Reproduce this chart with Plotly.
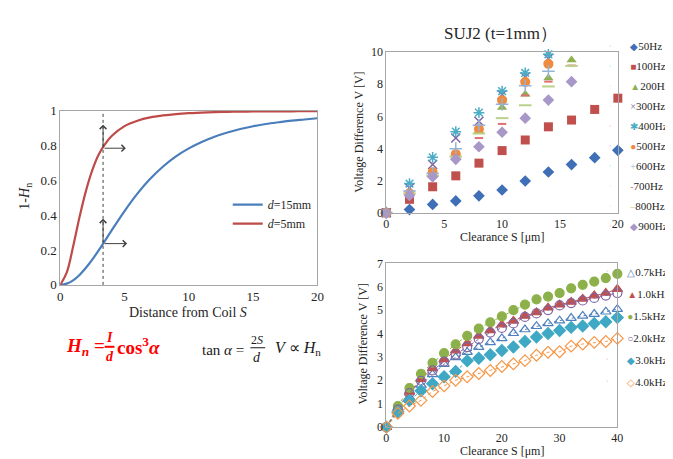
import plotly.graph_objects as go

# ---------------- data ----------------
# Left chart: 1-Hn versus distance from coil S
S_left = [0, 0.5, 1, 1.5, 2, 2.5, 3, 3.5, 4, 5, 6, 7, 8, 9, 10, 11, 12, 13, 14, 15, 16, 17, 18, 19, 20]
d15mm = [0, 0.007, 0.026, 0.057, 0.098, 0.146, 0.200, 0.256, 0.313, 0.424, 0.524, 0.609, 0.680, 0.738,
         0.784, 0.821, 0.851, 0.875, 0.895, 0.911, 0.924, 0.934, 0.943, 0.950, 0.957]
d5mm = [0, 0.07, 0.22, 0.39, 0.54, 0.66, 0.75, 0.81, 0.855, 0.912, 0.943, 0.962, 0.973, 0.981,
        0.986, 0.989, 0.992, 0.994, 0.995, 0.996, 0.996, 0.997, 0.997, 0.998, 0.998]
S_mark = 3.33
mark_d5 = 0.785
mark_d15 = 0.237

# Top right chart: SUJ2 (t=1mm)
clear_top = [0, 2, 4, 6, 8, 10, 12, 14, 16, 18, 20]
hz_names = ["50Hz", "100Hz", "200Hz", "300Hz", "400Hz", "500Hz", "600Hz", "700Hz", "800Hz", "900Hz"]
v50 = [0, 0.20, 0.52, 0.74, 1.06, 1.42, 1.98, 2.54, 3.00, 3.43, 3.89]
v100 = [0, 0.84, 1.62, 2.30, 3.09, 3.87, 4.53, 5.35, 5.77, 6.43, 7.13]
v200 = [0, 1.30, 2.35, 3.60, 5.10, 6.55, 7.38, 8.38, 9.50]
v300 = [0, 1.55, 3.00, 4.65, 5.70, 7.35, 8.45, 9.60]
v400 = [0, 1.82, 3.45, 5.05, 6.23, 7.57, 8.70, 9.86]
v500 = [0, 1.20, 2.52, 3.65, 5.21, 7.00, 8.14, 9.26]
v600 = [0, 1.35, 2.45, 3.99, 5.45, 6.75, 7.90, 8.80]
v700 = [0, 1.00, 2.35, 3.55, 4.65, 5.53, 7.30, 8.16, 9.16]
v800 = [0, 1.20, 2.30, 3.50, 4.93, 5.89, 6.69, 7.86, 9.14]
v900 = [0, 1.08, 2.24, 3.33, 4.11, 5.01, 5.89, 7.01, 8.16]

# Bottom right chart
clear_bot = [0, 2, 4, 6, 8, 10, 12, 14, 16, 18, 20, 22, 24, 26, 28, 30, 32, 34, 36, 38, 40]
khz_names = ["0.7kHz", "1.0kHz", "1.5kHz", "2.0kHz", "3.0kHz", "4.0kHz"]
k07 = [0, 0.73, 1.28, 1.80, 2.25, 2.69, 2.98, 3.20, 3.42, 3.62, 3.79, 4.01, 4.17, 4.31, 4.43, 4.55, 4.66, 4.75, 4.83, 4.93, 5.04]
k10 = [0, 0.82, 1.50, 2.05, 2.51, 2.89, 3.27, 3.58, 3.90, 4.13, 4.38, 4.54, 4.75, 4.90, 5.10, 5.23, 5.35, 5.48, 5.62, 5.73, 5.90]
k15 = [0, 0.90, 1.67, 2.28, 2.75, 3.16, 3.54, 3.90, 4.21, 4.48, 4.73, 5.00, 5.23, 5.46, 5.58, 5.73, 5.93, 6.08, 6.22, 6.37, 6.55]
k20 = [0, 0.75, 1.45, 1.98, 2.42, 2.80, 3.10, 3.42, 3.76, 4.04, 4.24, 4.43, 4.71, 4.86, 5.00, 5.20, 5.30, 5.41, 5.52, 5.62, 5.73]
k30 = [0, 0.65, 1.13, 1.55, 1.85, 2.15, 2.38, 2.83, 2.94, 3.09, 3.27, 3.42, 3.66, 3.85, 4.00, 4.13, 4.26, 4.32, 4.43, 4.50, 4.68]
k40 = [0, 0.59, 0.90, 1.14, 1.52, 1.76, 2.00, 2.15, 2.29, 2.42, 2.59, 2.70, 2.84, 3.07, 3.20, 3.22, 3.46, 3.55, 3.62, 3.66, 3.79]

# ---------------- styling ----------------
FONT = "Liberation Serif"
TXT = "#262626"
FRAME = "#A6A6A6"
W, H = 673, 459

def px(x):
    return x / W

def py(y):
    return 1 - y / H

fig = go.Figure()

# left chart curves
fig.add_trace(go.Scatter(x=S_left, y=d15mm, mode="lines", line=dict(color="#4A7EBB", width=2.2, shape="spline"),
                         name="<i>d</i>=15mm", xaxis="x", yaxis="y", legend="legend"))
fig.add_trace(go.Scatter(x=S_left, y=d5mm, mode="lines", line=dict(color="#BE4B48", width=2.2, shape="spline"),
                         name="<i>d</i>=5mm", xaxis="x", yaxis="y", legend="legend"))

def legend_label(glyph, color, name, gsize=10):
    return f'<span style="color:{color};font-size:{gsize}px">{glyph}</span>{name}'

# top right scatter
top_series = [v50, v100, v200, v300, v400, v500, v600, v700, v800, v900]
top_styles = [
    dict(symbol="diamond", color="#3F6FB6", size=9),
    dict(symbol="square", color="#C0504D", size=9),
    dict(symbol="triangle-up", color="#8FB050", size=9),
    dict(symbol="x-thin-open", color="#8064A2", size=9, line=dict(color="#8064A2", width=1.5)),
    dict(symbol="asterisk-open", color="#4BACC6", size=9, line=dict(color="#4BACC6", width=1.5)),
    dict(symbol="circle", color="#F08A3C", size=10),
    dict(symbol="cross-thin-open", color="#95B3D7", size=9, line=dict(color="#95B3D7", width=1.5)),
    dict(symbol="line-ew-open", color="#E07070", size=6, line=dict(color="#E07070", width=2)),
    dict(symbol="line-ew-open", color="#B9D18A", size=9, line=dict(color="#B9D18A", width=2)),
    dict(symbol="diamond", color="#A898C8", size=9),
]
top_glyphs = ["◆", "■", "▲", "×", "✱", "●", "+", "-", "–", "◆"]
for name, vals, st, gl in zip(hz_names, top_series, top_styles, top_glyphs):
    fig.add_trace(go.Scatter(x=clear_top[:len(vals)], y=vals, mode="markers", marker=st, name=name,
                             xaxis="x2", yaxis="y2", showlegend=False, cliponaxis=False))
    # legend entry (no data)
    fig.add_trace(go.Scatter(x=[None], y=[None], mode="markers", marker=dict(opacity=0, size=1),
                             name=legend_label(gl, st["color"], name), xaxis="x2", yaxis="y2",
                             legend="legend2", legendgroup=name, hoverinfo="skip"))

# bottom right scatter with dotted lines
bot_series = [k07, k10, k15, k20, k30, k40]
bot_colors = ["#4F81BD", "#C0504D", "#8DB14A", "#8064A2", "#3FA8C4", "#F79646"]
bot_symbols = ["triangle-up-open", "triangle-up", "circle", "circle-open", "diamond", "diamond-open"]
bot_glyphs = ["△", "▲", "●", "○", "◆", "◇"]
for name, vals, col, sym, gl in zip(khz_names, bot_series, bot_colors, bot_symbols, bot_glyphs):
    fig.add_trace(go.Scatter(x=clear_bot, y=vals, mode="lines+markers",
                             line=dict(color=col, width=1, dash="dot"),
                             marker=dict(symbol=sym, color=col, size=9, line=dict(color=col, width=1.2)),
                             name=name, xaxis="x3", yaxis="y3", showlegend=False, cliponaxis=False))
    fig.add_trace(go.Scatter(x=[None], y=[None], mode="markers", marker=dict(opacity=0, size=1),
                             name=legend_label(gl, col, name), xaxis="x3", yaxis="y3",
                             legend="legend3", legendgroup=name, hoverinfo="skip"))

axis_common = dict(showline=True, mirror=True, linecolor=FRAME, linewidth=1, showgrid=False, zeroline=False,
                   ticks="", ticklen=0, tickfont=dict(family=FONT, size=13, color=TXT))
small_ticks = {**axis_common, "tickfont": dict(family=FONT, size=12, color=TXT)}

fig.update_layout(
    width=W, height=H, autosize=False,
    margin=dict(l=0, r=0, t=0, b=0),
    paper_bgcolor="white", plot_bgcolor="white",
    font=dict(family=FONT, color=TXT),
    xaxis=dict(domain=[px(50), px(311)], range=[0, 20], dtick=5, anchor="y", **axis_common),
    yaxis=dict(domain=[py(279), py(99)], range=[0, 1], dtick=0.2, anchor="x", **axis_common),
    xaxis2=dict(domain=[px(381), px(616)], range=[0, 20], dtick=5, anchor="y2", **small_ticks),
    yaxis2=dict(domain=[py(204.5), py(38.3)], range=[0, 10], dtick=2, anchor="x2", **small_ticks),
    xaxis3=dict(domain=[px(381), px(615.5)], range=[0, 40], dtick=10, anchor="y3", **small_ticks),
    yaxis3=dict(domain=[py(426), py(256.7)], range=[0, 7], dtick=1, anchor="x3", **small_ticks),
    legend=dict(x=px(220), y=py(181), xanchor="left", yanchor="top", bgcolor="rgba(0,0,0,0)",
                font=dict(family=FONT, size=12, color=TXT), tracegroupgap=0),
    legend2=dict(x=px(588), y=py(17), xanchor="left", yanchor="top", bgcolor="rgba(0,0,0,0)",
                 font=dict(family=FONT, size=11, color=TXT), tracegroupgap=1),
    legend3=dict(x=px(585), y=py(250), xanchor="left", yanchor="top", bgcolor="rgba(0,0,0,0)",
                 font=dict(family=FONT, size=11, color=TXT), tracegroupgap=3),
)

ann = []
def text(x, y, t, size=13, color=TXT, xanchor="center", angle=0):
    ann.append(dict(x=px(x), y=py(y), xref="paper", yref="paper", text=t, showarrow=False,
                    font=dict(family=FONT, size=size, color=color), xanchor=xanchor, yanchor="middle",
                    textangle=angle))

# left chart titles
text(180, 308, "Distance from Coil <i>S</i>", size=14)
text(15, 187, "1-<i>H</i><sub>n</sub>", size=14, angle=-90)
# right chart titles
text(497, 19, "SUJ2 (t=1mm）", size=17)
text(498, 230, "Clearance S [μm]", size=12)
text(353, 121, "Voltage Difference V [V]", size=12, angle=-90)
text(498, 451, "Clearance S [μm]", size=12)
text(357, 340, "Voltage Difference V [V]", size=12, angle=-90)

# formula
RED = "#FF0000"
text(97, 343, "<b><i>H</i><sub><i>n</i></sub> =</b>", size=19, color=RED, xanchor="right")
text(100, 333, "<b><i>I</i></b>", size=14, color=RED)
text(100, 353, "<b><i>d</i></b>", size=14, color=RED)
text(106, 342, "<b>cos<sup>3</sup><i>α</i></b>", size=19, color=RED, xanchor="left")
text(192, 346, "tan <i>α</i> =", size=15, color="#1a1a1a", xanchor="left")
text(250, 336, "2<i>S</i>", size=12, color="#1a1a1a")
text(250, 354, "<i>d</i>", size=14, color="#1a1a1a")
text(266, 345, "<i>V</i> ∝ <i>H</i><sub>n</sub>", size=16, color="#1a1a1a", xanchor="left")

# arrows on left chart
for (xa, ya, xh, yh) in [(S_mark, mark_d5, S_mark, 0.92), (S_mark, mark_d5, 5.1, mark_d5),
                         (S_mark, mark_d15, S_mark, 0.38), (S_mark, mark_d15, 5.2, mark_d15)]:
    ann.append(dict(x=xh, y=yh, ax=xa, ay=ya, xref="x", yref="y", axref="x", ayref="y", text="",
                    showarrow=True, arrowhead=4, arrowsize=1.3, arrowwidth=1, arrowcolor="#404040",
                    standoff=0, startstandoff=0))

fig.update_layout(annotations=ann)

shapes = [
    dict(type="line", xref="x", yref="y", x0=S_mark, x1=S_mark, y0=0, y1=1,
         line=dict(color="#404040", width=1, dash="dot")),
    dict(type="line", xref="paper", yref="paper", x0=px(95), x1=px(105), y0=py(343), y1=py(343),
         line=dict(color=RED, width=2)),
    dict(type="line", xref="paper", yref="paper", x0=px(243), x1=px(258), y0=py(344), y1=py(344),
         line=dict(color="#1a1a1a", width=1)),
]
fig.update_layout(shapes=shapes)

fig.write_html("out.html")
